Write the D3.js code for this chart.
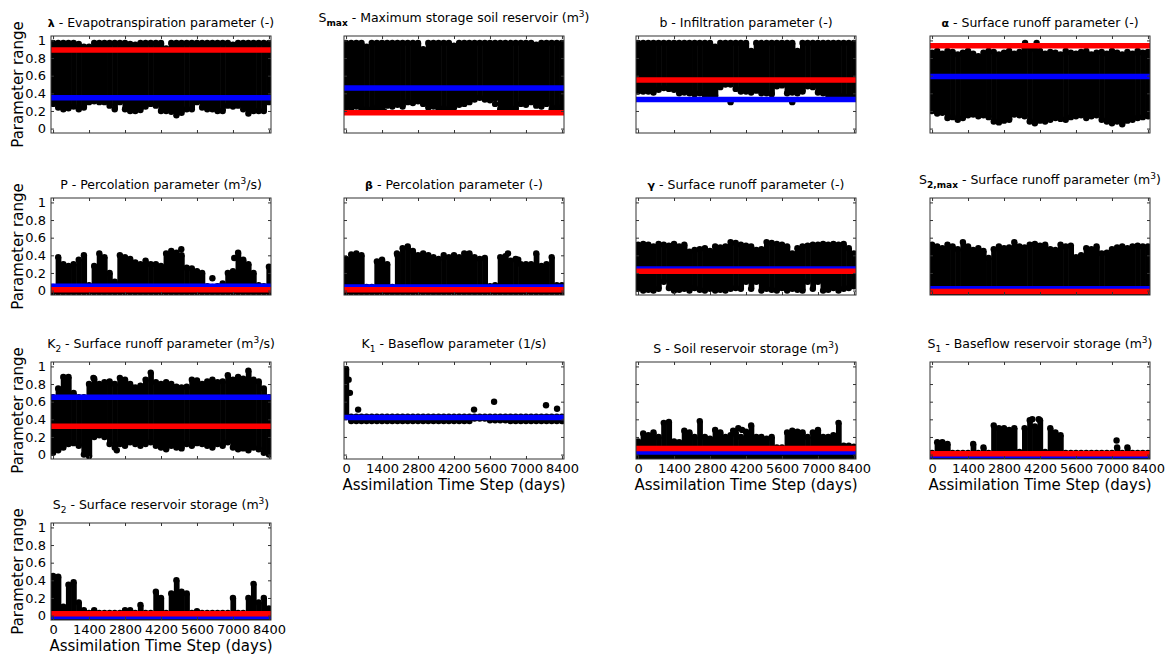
<!DOCTYPE html>
<html>
<head>
<meta charset="utf-8">
<script src="https://cdn.jsdelivr.net/npm/d3@7"></script>
<style>
  body { margin: 0; background: #fff; }
  svg { font-family: "DejaVu Sans", Verdana, sans-serif; }
</style>
</head>
<body>
<svg id="chart" width="1173" height="657"></svg>
<script>
// assimilation time steps (days) at which the ensemble spread was read
const steps = [0,200,400,600,800,1000,1200,1400,1600,1800,2000,2200,2400,2600,2800,3000,3200,3400,3600,3800,4000,4200,4400,4600,4800,5000,5200,5400,5600,5800,6000,6200,6400,6600,6800,7000,7200,7400,7600,7800,8000,8200,8400];
const xTicks = [0,1400,2800,4200,5600,7000,8400];
const yTicks = [0,0.2,0.4,0.6,0.8,1];
const yTickLabels = ["0","0.2","0.4","0.6","0.8","1"];

// upper / lower edge of the black ensemble cloud, isolated points as [day, value]
const lambdaHi = [0.97,0.97,0.97,0.97,0.97,0.96,0.93,0.93,0.97,0.97,0.97,0.97,0.97,0.97,0.97,0.96,0.95,0.97,0.97,0.97,0.97,0.97,0.91,0.97,0.97,0.97,0.97,0.97,0.97,0.97,0.97,0.97,0.97,0.97,0.97,0.95,0.97,0.97,0.97,0.97,0.97,0.97,0.97];
const lambdaLo = [0.28,0.24,0.22,0.23,0.25,0.22,0.24,0.3,0.31,0.3,0.3,0.26,0.22,0.3,0.22,0.2,0.2,0.21,0.25,0.28,0.26,0.2,0.2,0.19,0.15,0.18,0.22,0.22,0.3,0.24,0.22,0.22,0.2,0.2,0.26,0.25,0.26,0.22,0.17,0.2,0.2,0.2,0.3];
const lambdaDots = [];

const smaxHi = [0.97,0.97,0.97,0.97,0.93,0.97,0.97,0.97,0.97,0.97,0.97,0.97,0.97,0.97,0.97,0.9,0.97,0.97,0.97,0.97,0.97,0.94,0.97,0.97,0.97,0.97,0.97,0.97,0.97,0.97,0.97,0.97,0.97,0.97,0.97,0.97,0.97,0.95,0.97,0.97,0.97,0.97,0.97];
const smaxLo = [0.24,0.23,0.25,0.22,0.22,0.21,0.24,0.22,0.26,0.25,0.27,0.25,0.3,0.29,0.31,0.28,0.24,0.25,0.22,0.23,0.22,0.24,0.27,0.28,0.3,0.33,0.35,0.33,0.32,0.34,0.22,0.21,0.24,0.22,0.28,0.27,0.3,0.26,0.25,0.28,0.22,0.24,0.23];
const smaxDots = [[900,0.21],[1500,0.19],[5800,0.28],[6100,0.2],[6300,0.19]];

const bHi = [0.97,0.97,0.97,0.97,0.97,0.97,0.97,0.97,0.97,0.97,0.97,0.97,0.97,0.97,0.97,0.93,0.97,0.97,0.97,0.97,0.97,0.97,0.88,0.97,0.97,0.97,0.97,0.97,0.97,0.97,0.97,0.88,0.97,0.97,0.97,0.97,0.97,0.97,0.97,0.97,0.97,0.97,0.97];
const bLo = [0.42,0.42,0.42,0.41,0.44,0.46,0.45,0.44,0.4,0.41,0.4,0.39,0.4,0.38,0.38,0.37,0.47,0.5,0.5,0.45,0.42,0.42,0.41,0.43,0.4,0.4,0.39,0.48,0.49,0.4,0.41,0.4,0.42,0.48,0.47,0.41,0.4,0.38,0.38,0.37,0.37,0.36,0.37];
const bDots = [[3600,0.3],[6000,0.3]];

const alphaHi = [0.86,0.88,0.85,0.88,0.87,0.84,0.86,0.88,0.85,0.82,0.86,0.88,0.87,0.84,0.86,0.88,0.85,0.87,0.92,0.93,0.9,0.88,0.85,0.87,0.86,0.84,0.88,0.86,0.85,0.87,0.88,0.84,0.86,0.87,0.85,0.88,0.86,0.84,0.87,0.85,0.88,0.86,0.87];
const alphaLo = [0.2,0.17,0.18,0.12,0.13,0.1,0.12,0.15,0.16,0.14,0.15,0.13,0.08,0.07,0.09,0.1,0.16,0.15,0.14,0.08,0.06,0.09,0.08,0.1,0.12,0.11,0.1,0.13,0.14,0.15,0.12,0.14,0.15,0.1,0.08,0.06,0.08,0.05,0.09,0.1,0.12,0.13,0.14];
const alphaDots = [[3620,0.97],[4070,0.97]];

const pHi = [0.04,0.38,0.3,0.28,0.3,0.35,0.4,0.06,0.28,0.42,0.38,0.2,0.1,0.4,0.38,0.36,0.32,0.3,0.34,0.3,0.3,0.28,0.42,0.45,0.43,0.4,0.26,0.25,0.22,0.2,0.05,0.04,0.05,0.08,0.2,0.22,0.43,0.35,0.3,0.2,0.06,0.05,0.27];
const pLo = -0.02;
const pDots = [[4990,0.47],[6200,0.14],[7050,0.37]];

const betaHi = [0.36,0.41,0.42,0.4,0.04,0.04,0.33,0.35,0.3,0.04,0.4,0.48,0.5,0.45,0.4,0.42,0.4,0.38,0.36,0.4,0.38,0.4,0.38,0.42,0.42,0.38,0.36,0.37,0.05,0.06,0.38,0.39,0.34,0.36,0.3,0.3,0.3,0.42,0.28,0.3,0.38,0.06,0.06];
const betaLo = -0.02;
const betaDots = [[1980,0.42],[6300,0.42],[6700,0.35]];

const gammaHi = [0.52,0.53,0.52,0.5,0.53,0.52,0.51,0.53,0.5,0.52,0.44,0.46,0.47,0.48,0.45,0.5,0.49,0.5,0.55,0.54,0.52,0.51,0.5,0.46,0.47,0.55,0.54,0.53,0.52,0.5,0.42,0.48,0.5,0.51,0.52,0.52,0.53,0.52,0.53,0.52,0.53,0.48,0.42];
const gammaLo = [0.02,0.0,0.01,0.0,0.02,0.1,0.03,0.0,0.01,0.02,0.0,0.03,0.01,0.0,0.02,0.0,0.01,0.0,0.02,0.03,0.02,0.1,0.02,0.1,0.0,0.02,0.01,0.0,0.03,0.0,0.02,0.01,0.0,0.1,0.02,0.1,0.0,0.01,0.03,0.0,0.02,0.03,0.05];
const gammaDots = [];

const s2maxHi = [0.52,0.5,0.48,0.52,0.5,0.47,0.55,0.5,0.46,0.48,0.45,0.37,0.47,0.5,0.48,0.49,0.55,0.5,0.49,0.52,0.53,0.51,0.52,0.47,0.46,0.52,0.5,0.51,0.38,0.4,0.48,0.47,0.5,0.42,0.43,0.47,0.49,0.5,0.48,0.5,0.51,0.5,0.5];
const s2maxLo = -0.03;
const s2maxDots = [];

const k2Hi = [0.65,0.75,0.88,0.88,0.7,0.65,0.65,0.8,0.86,0.8,0.82,0.83,0.8,0.87,0.85,0.8,0.76,0.78,0.85,0.93,0.82,0.8,0.82,0.8,0.77,0.76,0.77,0.85,0.84,0.8,0.83,0.85,0.82,0.83,0.9,0.85,0.88,0.86,0.95,0.85,0.83,0.75,0.65];
const k2Lo = [0.02,0.05,0.08,0.12,0.13,0.1,0.0,-0.02,0.2,0.22,0.2,0.12,0.08,0.12,0.1,0.14,0.12,0.1,0.12,0.14,0.1,0.08,0.06,0.1,0.08,0.07,0.12,0.1,0.13,0.12,0.1,0.08,0.12,0.1,0.14,0.08,0.06,0.07,0.05,0.08,0.06,0.02,0.0];
const k2Dots = [[1570,0.87],[2480,0.05]];

const k1Hi = [0.97,0.43,0.43,0.43,0.43,0.43,0.43,0.43,0.43,0.43,0.43,0.43,0.43,0.43,0.43,0.43,0.43,0.43,0.43,0.43,0.43,0.43,0.43,0.43,0.43,0.43,0.43,0.43,0.43,0.43,0.43,0.43,0.43,0.43,0.43,0.43,0.43,0.43,0.43,0.43,0.43,0.43,0.43];
const k1Lo = [0.43,0.38,0.38,0.38,0.38,0.38,0.38,0.38,0.38,0.38,0.38,0.38,0.38,0.38,0.38,0.38,0.38,0.38,0.38,0.38,0.38,0.38,0.38,0.38,0.38,0.41,0.41,0.41,0.39,0.39,0.39,0.39,0.38,0.38,0.38,0.38,0.38,0.38,0.38,0.38,0.38,0.38,0.38];
const k1Dots = [[100,0.85],[150,0.7],[470,0.51],[4980,0.51],[5760,0.6],[7780,0.56],[8210,0.52]];

const sHi = [0.15,0.24,0.22,0.25,0.2,0.36,0.37,0.15,0.14,0.27,0.25,0.2,0.38,0.2,0.18,0.28,0.25,0.2,0.22,0.25,0.2,0.26,0.33,0.2,0.2,0.18,0.2,0.08,0.08,0.25,0.27,0.26,0.25,0.2,0.25,0.28,0.2,0.2,0.22,0.36,0.1,0.1,0.09];
const sLo = -0.03;
const sDots = [[3700,0.27],[3900,0.3],[4050,0.28]];

const s1Hi = [0.02,0.14,0.14,0.12,0.02,0.02,0.02,0.02,0.12,0.02,0.08,0.02,0.33,0.3,0.3,0.28,0.3,0.03,0.3,0.39,0.32,0.39,0.03,0.3,0.25,0.22,0.02,0.02,0.02,0.02,0.02,0.02,0.02,0.02,0.02,0.02,0.08,0.02,0.08,0.02,0.02,0.02,0.02];
const s1Lo = -0.03;
const s1Dots = [[3900,0.4],[4150,0.4],[7180,0.16]];

const s2Hi = [0.45,0.44,0.1,0.35,0.38,0.15,0.06,0.03,0.06,0.03,0.03,0.03,0.03,0.03,0.06,0.06,0.03,0.12,0.03,0.03,0.27,0.2,0.03,0.25,0.4,0.27,0.25,0.03,0.05,0.03,0.03,0.03,0.03,0.03,0.03,0.2,0.03,0.03,0.2,0.36,0.15,0.2,0.08];
const s2Lo = -0.03;
const s2Dots = [];

// red and blue reference lines, one per panel (null = not visible)
const redLines  = [0.89, 0.18, 0.55, 0.94, 0.01, 0.01, 0.22, -0.01, 0.32, null, 0.07, 0.01, 0.02];
const blueLines = [0.35, 0.46, 0.33, 0.59, 0.05, 0.04, 0.245, 0.02, 0.65, 0.42, 0.03, -0.01, -0.01];

// titles as [text, style] pieces
const titles = [
  [["λ","sym"],[" - Evapotranspiration parameter (-)",""]],
  [["S",""],["max","bsub"],[" - Maximum storage soil reservoir (m",""],["3","sup"],[")",""]],
  [["b - Infiltration parameter (-)",""]],
  [["α","sym"],[" - Surface runoff parameter (-)",""]],
  [["P - Percolation parameter (m",""],["3","sup"],["/s)",""]],
  [["β","sym"],[" - Percolation parameter (-)",""]],
  [["γ","sym"],[" - Surface runoff parameter (-)",""]],
  [["S",""],["2,max","bsub"],[" - Surface runoff parameter (m",""],["3","sup"],[")",""]],
  [["K",""],["2","sub"],[" - Surface runoff parameter (m",""],["3","sup"],["/s)",""]],
  [["K",""],["1","sub"],[" - Baseflow parameter (1/s)",""]],
  [["S - Soil reservoir storage (m",""],["3","sup"],[")",""]],
  [["S",""],["1","sub"],[" - Baseflow reservoir storage (m",""],["3","sup"],[")",""]],
  [["S",""],["2","sub"],[" - Surface reservoir storage (m",""],["3","sup"],[")",""]]
];

const series = [
  [lambdaHi, lambdaLo, lambdaDots],
  [smaxHi, smaxLo, smaxDots],
  [bHi, bLo, bDots],
  [alphaHi, alphaLo, alphaDots],
  [pHi, pLo, pDots],
  [betaHi, betaLo, betaDots],
  [gammaHi, gammaLo, gammaDots],
  [s2maxHi, s2maxLo, s2maxDots],
  [k2Hi, k2Lo, k2Dots],
  [k1Hi, k1Lo, k1Dots],
  [sHi, sLo, sDots],
  [s1Hi, s1Lo, s1Dots],
  [s2Hi, s2Lo, s2Dots]
];

// layout
const colLeft = [51, 344, 636, 930];
const rowTop = [36, 198, 362, 523];
const pw = 220, ph = 97;
const withXLabels = [9, 10, 11, 12];

const svg = d3.select("#chart");
const x = d3.scaleLinear().domain([-80, 8480]).range([0, pw]);
const y = d3.scaleLinear().domain([-0.05, 1.05]).range([ph, 0]);
const half = 100; // half a step in days

series.forEach((s, k) => {
  const [hi, lo, dots] = s;
  const col = k % 4, row = Math.floor(k / 4);
  const g = svg.append("g").attr("transform", `translate(${colLeft[col]},${rowTop[row]})`);

  g.append("clipPath").attr("id", "clip" + k)
    .append("rect").attr("width", pw).attr("height", ph);

  const cloud = g.append("g").attr("clip-path", `url(#clip${k})`);
  const low = i => Array.isArray(lo) ? lo[i] : lo;

  // ensemble cloud: bars between the edges with round markers on them
  cloud.selectAll("rect.bar")
    .data(steps)
    .enter().append("rect")
    .attr("class", "bar")
    .attr("x", d => x(d - half))
    .attr("width", x(half) - x(-half) + 0.6)
    .attr("y", (d, i) => y(hi[i]))
    .attr("height", (d, i) => Math.max(0, y(low(i)) - y(hi[i])))
    .attr("fill", "#000");

  const edges = steps.flatMap((d, i) => [[d, hi[i]], [d, low(i)]]).concat(dots);
  cloud.selectAll("circle")
    .data(edges)
    .enter().append("circle")
    .attr("cx", d => x(d[0]))
    .attr("cy", d => y(d[1]))
    .attr("r", 3.2)
    .attr("fill", "#000");

  // blue and red lines
  [[blueLines[k], "#0000ff"], [redLines[k], "#ff0000"]].forEach(([v, c]) => {
    if (v === null) return;
    g.append("line")
      .attr("x1", x(-80)).attr("x2", x(8480))
      .attr("y1", y(v)).attr("y2", y(v))
      .attr("stroke", c).attr("stroke-width", 5.5);
  });

  // axes with inward ticks on all four sides
  const showX = withXLabels.includes(k);
  const showY = col === 0;
  const style = a => {
    a.select(".domain").remove();
    a.attr("font-family", null).attr("font-size", 13);
    a.selectAll("line").attr("stroke", "#333");
    a.selectAll("text").attr("fill", "#000");
  };
  g.append("g").attr("transform", `translate(0,${ph})`)
    .call(d3.axisBottom(x).tickValues(xTicks).tickSize(-3).tickPadding(5)
      .tickFormat(d => showX ? String(d) : ""))
    .call(style);
  g.append("g")
    .call(d3.axisTop(x).tickValues(xTicks).tickSize(-3).tickFormat(""))
    .call(style);
  g.append("g")
    .call(d3.axisLeft(y).tickValues(yTicks).tickSize(-3).tickPadding(5)
      .tickFormat(d => showY ? yTickLabels[yTicks.indexOf(d)] : ""))
    .call(style);
  g.append("g").attr("transform", `translate(${pw},0)`)
    .call(d3.axisRight(y).tickValues(yTicks).tickSize(-3).tickFormat(""))
    .call(style);

  g.append("rect")
    .attr("width", pw).attr("height", ph)
    .attr("fill", "none").attr("stroke", "#333").attr("stroke-width", 1);

  // title, raised when it carries a subscript
  const parts = titles[k];
  const hasSub = parts.some(p => p[1] === "sub" || p[1] === "bsub");
  const t = g.append("text")
    .attr("x", pw / 2)
    .attr("y", hasSub ? -14 : -9)
    .attr("text-anchor", "middle")
    .attr("font-size", 12.5)
    .attr("fill", "#000");
  let shift = 0;
  parts.forEach(([txt, kind]) => {
    const target = kind === "sub" || kind === "bsub" ? 4 : kind === "sup" ? -5 : 0;
    const ts = t.append("tspan").attr("dy", target - shift).text(txt);
    shift = target;
    if (kind === "sub" || kind === "sup") ts.attr("font-size", 9);
    if (kind === "bsub") ts.attr("font-size", 9).attr("font-weight", "bold");
    if (kind === "sym") ts.attr("font-weight", "bold").attr("font-size", 11);
  });

  if (showY) {
    svg.append("text")
      .attr("transform", `translate(23,${rowTop[row] + ph / 2}) rotate(-90)`)
      .attr("text-anchor", "middle")
      .attr("font-size", 15)
      .text("Parameter range");
  }
  if (showX) {
    g.append("text")
      .attr("x", pw / 2).attr("y", ph + 31)
      .attr("text-anchor", "middle")
      .attr("font-size", 15)
      .text("Assimilation Time Step (days)");
  }
});
</script>
</body>
</html>
